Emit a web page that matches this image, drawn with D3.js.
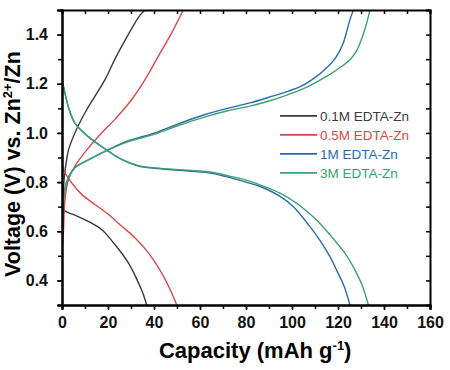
<!DOCTYPE html>
<html>
<head>
<meta charset="utf-8">
<script src="https://cdn.jsdelivr.net/npm/d3@7"></script>
<style>
  body { margin: 0; background: #fff; }
  text { font-family: Arial, "Liberation Sans", sans-serif; }
</style>
</head>
<body>
<div id="wrapper"></div>
<script>
// legend / series names
const seriesNames = ["0.1M EDTA-Zn", "0.5M EDTA-Zn", "1M EDTA-Zn", "3M EDTA-Zn"]
const seriesColors = ["#3b3b3b", "#d34a4d", "#2a6cab", "#3e9e74"]

// charge curves [capacity, voltage]
const charge01 = [[0,0.60],[0.4,0.72],[1,0.82],[2,0.89],[2.8,0.93],[5.6,1.0],[10,1.082],[14.3,1.149],[18.7,1.217],[23,1.30],[26,1.353],[31.7,1.447],[34,1.48],[36.1,1.50]]
const charge05 = [[0,0.52],[0.6,0.594],[1.3,0.73],[2.8,0.81],[5.6,0.865],[10.7,0.93],[17.2,1.0],[23,1.055],[30.3,1.136],[36.1,1.217],[41.9,1.312],[47.7,1.407],[52.7,1.50]]
const charge1 = [[0,0.66],[0.6,0.72],[2,0.80],[5.6,0.858],[11.4,0.89],[18.7,0.925],[28,0.965],[40.4,1.0],[50,1.035],[62.2,1.075],[72,1.10],[81.7,1.122],[90,1.145],[96.2,1.163],[104,1.19],[110.7,1.23],[115,1.265],[117.9,1.292],[120.5,1.33],[122.3,1.366],[124,1.42],[125.2,1.461],[126.7,1.50]]
const charge3 = [[0,0.66],[0.6,0.72],[2,0.80],[5.6,0.858],[11.4,0.89],[18.7,0.925],[28,0.962],[40.4,0.995],[50,1.028],[62.2,1.065],[72,1.09],[81.7,1.109],[90,1.13],[96.2,1.149],[105,1.18],[115,1.23],[120,1.26],[125.2,1.298],[127.8,1.33],[129.6,1.366],[131.3,1.41],[132.5,1.448],[133.9,1.50]]

// discharge curves [capacity, voltage]
const discharge01 = [[0,0.78],[0.6,0.70],[1.3,0.682],[5.6,0.666],[11.4,0.64],[17.2,0.607],[23,0.546],[28.8,0.472],[33.2,0.391],[35.3,0.345],[36.8,0.30]]
const discharge05 = [[0,0.88],[0.6,0.85],[4.2,0.797],[8.6,0.75],[14.3,0.709],[20.1,0.669],[25.9,0.621],[31.7,0.574],[37.5,0.513],[43.3,0.431],[47,0.363],[49.9,0.30]]
const discharge1 = [[0,1.21],[0.6,1.19],[2.8,1.105],[5.6,1.04],[11.4,0.985],[18.7,0.935],[25.9,0.892],[33.2,0.865],[40.4,0.856],[54.9,0.845],[65,0.836],[73.8,0.816],[80,0.80],[86.1,0.782],[94.8,0.742],[100.6,0.70],[107.8,0.619],[112,0.565],[116.5,0.497],[119.5,0.44],[122.5,0.38],[125.2,0.30]]
const discharge3 = [[0,1.21],[0.6,1.19],[2.8,1.105],[5.6,1.04],[11.4,0.985],[18.7,0.935],[25.9,0.892],[33.2,0.867],[40.4,0.858],[54.9,0.848],[65,0.840],[73.8,0.822],[80,0.808],[86.1,0.789],[94.8,0.755],[102,0.714],[110.7,0.646],[117,0.58],[123.8,0.50],[127.5,0.44],[130.5,0.38],[133.2,0.30]]

const chargeCurves = [charge01, charge05, charge1, charge3]
const dischargeCurves = [discharge01, discharge05, discharge1, discharge3]

const xTicks = [0, 20, 40, 60, 80, 100, 120, 140, 160]
const yTicks = [0.4, 0.6, 0.8, 1.0, 1.2, 1.4]

function drawChart() {
  let dimensions = {
    width: 450,
    height: 370,
    margin: { top: 10, right: 20, bottom: 65, left: 62 },
  }
  dimensions.boundedWidth = dimensions.width - dimensions.margin.left - dimensions.margin.right
  dimensions.boundedHeight = dimensions.height - dimensions.margin.top - dimensions.margin.bottom

  const xScale = d3.scaleLinear()
    .domain([0, 160])
    .range([0, dimensions.boundedWidth])

  const yScale = d3.scaleLinear()
    .domain([0.3, 1.5])
    .range([dimensions.boundedHeight, 0])

  const wrapper = d3.select("#wrapper")
    .append("svg")
    .attr("width", dimensions.width)
    .attr("height", dimensions.height)

  const bounds = wrapper.append("g")
    .attr("transform", `translate(${dimensions.margin.left},${dimensions.margin.top})`)

  bounds.append("clipPath")
    .attr("id", "clip")
    .append("rect")
    .attr("width", dimensions.boundedWidth)
    .attr("height", dimensions.boundedHeight)

  const lineGenerator = d3.line()
    .x(d => xScale(d[0]))
    .y(d => yScale(d[1]))
    .curve(d3.curveCatmullRom)

  const curves = bounds.append("g").attr("clip-path", "url(#clip)")
  seriesNames.forEach((name, i) => {
    [chargeCurves[i], dischargeCurves[i]].forEach(c => {
      curves.append("path")
        .attr("d", lineGenerator(c))
        .attr("fill", "none")
        .attr("stroke", seriesColors[i])
        .attr("stroke-width", 1.4)
    })
  })

  // axes: bottom/left ticks outward, top/right ticks inward
  const minorX = d3.range(0, 161, 10)
  const minorY = d3.range(0.3, 1.51, 0.1)

  bounds.append("g")
    .attr("transform", `translate(0,${dimensions.boundedHeight})`)
    .call(d3.axisBottom(xScale).tickValues(minorX).tickSize(4).tickFormat(""))
  bounds.append("g")
    .attr("transform", `translate(0,${dimensions.boundedHeight})`)
    .call(d3.axisBottom(xScale).tickValues(xTicks).tickSize(5).tickPadding(7).tickFormat(d3.format("d")))
  bounds.append("g")
    .call(d3.axisTop(xScale).tickValues(minorX).tickSize(-4).tickFormat(""))

  bounds.append("g")
    .call(d3.axisLeft(yScale).tickValues(minorY).tickSize(4).tickFormat(""))
  bounds.append("g")
    .call(d3.axisLeft(yScale).tickValues(yTicks).tickSize(5).tickPadding(9).tickFormat(d3.format(".1f")))
  bounds.append("g")
    .attr("transform", `translate(${dimensions.boundedWidth},0)`)
    .call(d3.axisRight(yScale).tickValues(minorY).tickSize(-4).tickFormat(""))

  bounds.selectAll(".domain").attr("stroke", "#000").attr("stroke-width", 2)
  bounds.selectAll(".tick line").attr("stroke", "#000").attr("stroke-width", 1.5)
  bounds.selectAll(".tick text")
    .attr("fill", "#111")
    .style("font-size", "16px")
    .style("font-weight", "bold")

  // legend
  const legend = bounds.append("g")
    .attr("transform", `translate(${xScale(94.8)},${yScale(1.0)})`)
  seriesNames.forEach((name, i) => {
    const row = legend.append("g").attr("transform", `translate(0,${i * 19 - 17})`)
    row.append("line")
      .attr("x1", 0).attr("x2", 37)
      .attr("stroke", seriesColors[i])
      .attr("stroke-width", 1.6)
    row.append("text")
      .attr("x", 40)
      .attr("dy", "0.35em")
      .attr("fill", seriesColors[i])
      .style("font-size", "13.5px")
      .text(name)
  })

  // axis titles
  wrapper.append("text")
    .attr("x", dimensions.margin.left + xScale(84))
    .attr("y", 358)
    .attr("text-anchor", "middle")
    .style("font-size", "22px")
    .style("font-weight", "bold")
    .html('Capacity (mAh g<tspan dy="-8" font-size="13px">-1</tspan><tspan dy="8">)</tspan>')

  wrapper.append("text")
    .attr("transform", `translate(20,277) rotate(-90)`)
    .attr("text-anchor", "start")
    .style("font-size", "21.5px")
    .style("font-weight", "bold")
    .html('Voltage (V) vs. Zn<tspan dy="-8" font-size="13px">2+</tspan><tspan dy="8">/Zn</tspan>')
}

drawChart()
</script>
</body>
</html>
